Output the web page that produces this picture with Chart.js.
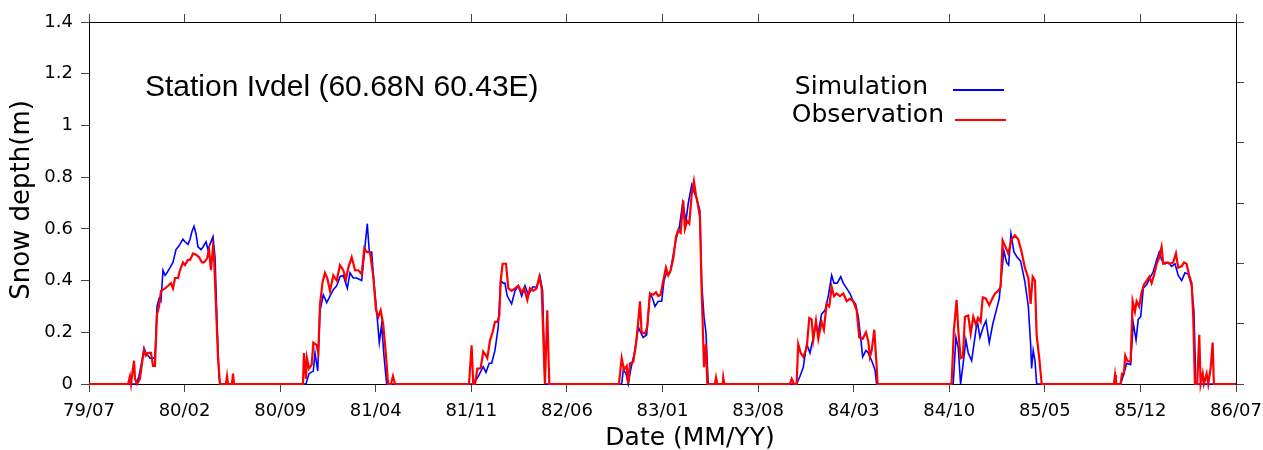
<!DOCTYPE html>
<html>
<head>
<meta charset="utf-8">
<script src="https://cdn.jsdelivr.net/npm/chart.js@4.4.1/dist/chart.umd.min.js"></script>
<style>
  body { margin: 0; background: #fff; }
  #wrap { width: 1263px; height: 450px; }
</style>
</head>
<body>
<div id="wrap"><canvas id="snowChart" width="1263" height="450"></canvas></div>
<script>
// months counted from 79/07 (0) to 86/07 (84), one line per winter
const simMonths = [0,
    3.44,3.66,3.88,4.03,4.17,4.47,4.83,4.98,5.13,5.27,5.42,5.57,5.71,5.93,6.15,6.37,6.52,6.66,6.88,7.03,7.25,7.40,7.54,7.69,7.84,7.98,8.20,8.35,8.57,8.71,8.86,9.08,9.23,9.37,9.52,9.59,
    15.89,16.11,16.43,16.55,16.75,16.92,17.16,17.41,17.65,17.89,18.14,18.38,18.62,18.92,19.11,19.35,19.60,19.97,20.21,20.38,20.53,20.70,20.87,21.07,21.26,21.43,21.60,21.80,
    28.14,28.51,28.87,29.07,29.31,29.49,29.73,29.97,30.15,30.34,30.46,30.63,30.95,31.20,31.44,31.69,31.93,32.17,32.49,32.78,33.03,33.22,33.39,
    39.01,39.13,39.33,39.49,39.67,39.98,40.23,40.40,40.59,40.84,41.08,41.28,41.45,41.69,41.94,42.11,42.30,42.55,42.79,42.99,43.23,43.48,43.72,43.89,44.14,44.30,44.50,44.74,44.87,45.04,45.18,45.35,
    51.82,52.07,52.31,52.56,52.80,53.00,53.24,53.41,53.65,53.90,54.14,54.39,54.56,54.80,55.05,55.24,55.49,55.73,55.97,56.14,56.34,56.51,56.66,56.90,57.07,57.32,57.56,57.68,
    63.29,63.49,63.66,63.83,64.02,64.22,64.39,64.64,64.88,65.05,65.25,65.49,65.69,65.93,66.18,66.42,66.66,66.84,67.00,67.20,67.35,67.52,67.74,67.98,68.23,68.54,68.79,68.96,69.03,69.15,69.28,69.40,
    75.55,75.79,75.99,76.28,76.48,76.68,76.84,77.02,77.21,77.46,77.70,77.94,78.19,78.38,78.55,78.79,79.04,79.28,79.53,79.77,80.02,80.26,80.50,80.75,80.92,81.06,84];
const simDepth = [0,
    0,0.03,0.09,0.14,0.12,0.10,0.10,0.30,0.33,0.32,0.44,0.42,0.43,0.45,0.47,0.52,0.53,0.54,0.56,0.55,0.54,0.56,0.59,0.61,0.58,0.53,0.52,0.53,0.55,0.52,0.54,0.57,0.49,0.25,0.03,0,
    0,0.04,0.05,0.12,0.05,0.285,0.345,0.315,0.34,0.365,0.38,0.415,0.42,0.37,0.43,0.41,0.41,0.40,0.53,0.62,0.51,0.51,0.39,0.28,0.16,0.23,0.11,0,
    0,0.03,0.067,0.045,0.08,0.08,0.13,0.22,0.40,0.39,0.39,0.34,0.31,0.36,0.38,0.34,0.38,0.345,0.375,0.375,0.415,0.36,0,
    0,0.055,0.04,0,0.055,0.13,0.22,0.20,0.18,0.19,0.35,0.33,0.30,0.32,0.32,0.40,0.43,0.43,0.50,0.56,0.605,0.70,0.63,0.70,0.77,0.745,0.72,0.67,0.39,0.26,0.20,0,
    0,0.03,0.065,0.155,0.12,0.17,0.23,0.20,0.27,0.285,0.34,0.42,0.39,0.39,0.415,0.39,0.37,0.35,0.32,0.31,0.26,0.18,0.105,0.13,0.12,0.09,0.055,0,
    0,0.18,0.14,0,0.08,0.17,0.12,0.09,0.18,0.245,0.18,0.22,0.245,0.16,0.23,0.28,0.33,0.43,0.515,0.47,0.46,0.58,0.51,0.49,0.475,0.395,0.30,0.155,0.06,0.13,0.09,0,
    0,0.04,0.08,0.075,0.235,0.17,0.25,0.26,0.37,0.385,0.41,0.435,0.48,0.51,0.48,0.465,0.47,0.455,0.465,0.42,0.40,0.43,0.425,0.38,0.28,0,0];

const obsMonths = [0,
    2.86,3.00,3.08,3.22,3.30,3.37,3.52,3.73,3.88,4.03,4.17,4.32,4.54,4.69,4.83,4.98,5.13,5.27,5.57,5.79,6.00,6.15,6.30,6.52,6.66,6.88,7.03,7.25,7.40,7.62,7.84,8.06,8.27,8.42,8.64,8.79,8.93,9.08,9.15,9.30,9.45,9.59,10.03,10.11,10.18,10.47,10.55,10.62,
    15.67,15.74,15.89,15.96,16.11,16.31,16.43,16.67,16.79,16.92,17.11,17.28,17.45,17.65,17.89,18.14,18.38,18.62,18.82,18.99,19.24,19.48,19.72,19.97,20.16,20.34,20.58,20.82,21.02,21.19,21.36,21.55,21.75,21.90,22.12,22.26,22.41,
    27.83,28.02,28.14,28.27,28.44,28.68,28.87,29.07,29.17,29.37,29.56,29.73,29.90,30.05,30.15,30.29,30.54,30.71,30.95,31.20,31.44,31.69,31.86,32.10,32.29,32.54,32.78,32.98,33.15,33.39,33.56,33.71,
    38.81,39.01,39.18,39.38,39.49,39.62,39.86,40.06,40.23,40.35,40.47,40.72,40.88,41.08,41.32,41.52,41.69,41.86,42.06,42.25,42.42,42.60,42.79,42.99,43.15,43.33,43.52,43.64,43.81,43.96,44.14,44.30,44.45,44.62,44.74,44.87,45.04,45.18,45.28,45.84,45.92,46.01,46.41,46.45,46.52,
    51.33,51.46,51.63,51.82,51.94,52.12,52.31,52.56,52.75,52.92,53.04,53.24,53.41,53.65,53.82,54.02,54.21,54.39,54.56,54.75,54.99,55.24,55.49,55.73,55.97,56.22,56.41,56.66,56.90,57.07,57.19,57.32,57.51,57.68,57.75,
    63.17,63.34,63.54,63.66,63.83,64.00,64.15,64.39,64.57,64.76,64.95,65.12,65.30,65.45,65.69,65.93,66.10,66.35,66.59,66.76,66.91,67.08,67.32,67.57,67.81,68.05,68.30,68.54,68.79,68.96,69.11,69.28,69.40,69.59,69.77,
    75.06,75.14,75.21,75.55,75.65,75.79,75.89,76.04,76.28,76.43,76.60,76.72,76.91,77.09,77.26,77.46,77.65,77.82,77.99,78.19,78.38,78.55,78.67,78.92,79.16,79.40,79.60,79.77,80.02,80.19,80.38,80.57,80.75,80.87,80.99,81.16,81.31,81.41,81.56,81.65,81.85,81.97,82.14,82.29,82.38,84];
const obsDepth = [0,
    0,0.03,0,0.06,0.09,0.02,0,0.02,0.08,0.13,0.11,0.12,0.12,0.07,0.07,0.27,0.30,0.36,0.37,0.38,0.39,0.37,0.41,0.41,0.44,0.47,0.46,0.48,0.48,0.505,0.50,0.49,0.47,0.47,0.485,0.52,0.44,0.53,0.50,0.30,0.10,0,0,0.03,0,0,0.04,0,
    0,0.12,0.02,0.10,0.06,0.075,0.16,0.15,0.12,0.31,0.395,0.43,0.41,0.36,0.42,0.40,0.46,0.44,0.405,0.45,0.49,0.44,0.44,0.425,0.525,0.51,0.51,0.415,0.285,0.26,0.285,0.23,0.11,0,0,0.03,0,
    0,0.15,0,0,0.06,0.06,0.125,0.11,0.10,0.17,0.20,0.24,0.24,0.265,0.40,0.465,0.465,0.37,0.36,0.37,0.38,0.355,0.37,0.325,0.37,0.36,0.37,0.415,0.37,0,0.285,0,
    0,0.10,0.055,0.07,0,0.08,0.085,0.155,0.245,0.32,0.20,0.195,0.22,0.35,0.345,0.355,0.34,0.345,0.40,0.45,0.42,0.44,0.485,0.57,0.595,0.585,0.71,0.60,0.63,0.62,0.735,0.785,0.73,0.685,0.645,0.36,0.065,0.155,0,0,0.025,0,0,0.025,0,
    0,0.02,0,0,0.155,0.12,0.105,0.14,0.255,0.25,0.17,0.245,0.175,0.24,0.21,0.31,0.30,0.375,0.34,0.35,0.34,0.35,0.32,0.33,0.32,0.285,0.18,0.175,0.20,0.165,0.105,0.13,0.21,0.07,0,
    0,0.21,0.325,0.21,0.10,0.105,0.26,0.265,0.195,0.26,0.23,0.255,0.24,0.335,0.33,0.305,0.325,0.35,0.36,0.375,0.555,0.535,0.505,0.56,0.575,0.56,0.51,0.45,0.41,0.31,0.415,0.40,0.19,0.10,0,
    0,0.035,0,0,0.04,0.04,0.11,0.09,0.085,0.32,0.28,0.32,0.30,0.355,0.385,0.40,0.415,0.39,0.42,0.465,0.49,0.53,0.465,0.47,0.465,0.47,0.505,0.45,0.455,0.47,0.465,0.42,0.39,0.255,0,0,0.19,0,0.04,0,0.04,0,0.06,0.16,0,0];

const depthTicks = [0, 0.2, 0.4, 0.6, 0.8, 1, 1.2, 1.4];

const stationTitle = 'Station Ivdel (60.68N 60.43E)';
const seriesNames = ['Simulation', 'Observation'];

function toPoints(xs, ys) {
    return xs.map((x, i) => ({ x: x, y: ys[i] }));
}

// MM/YY label from month index (0 = July 1979)
function monthLabel(m) {
    const k = Math.round(m) + 6;
    const mm = (k % 12) + 1;
    const yy = 79 + Math.floor(k / 12);
    return yy + '/' + String(mm).padStart(2, '0');
}

const font = 'DejaVu Sans';

// title, key and axis names placed like the original figure
const textPlugin = {
    id: 'figureText',
    afterDraw(chart) {
        const ctx = chart.ctx;
        ctx.save();
        ctx.fillStyle = '#000';
        ctx.textBaseline = 'middle';

        ctx.font = '30px "Liberation Sans"';
        ctx.textAlign = 'left';
        ctx.fillText(stationTitle, 145, 88);

        ctx.font = '25px "' + font + '"';
        ctx.textAlign = 'right';
        ctx.fillText(seriesNames[0], 928, 87);
        ctx.fillText(seriesNames[1], 944, 115);

        ctx.lineWidth = 2;
        ctx.strokeStyle = '#0000ff';
        ctx.beginPath(); ctx.moveTo(953, 90); ctx.lineTo(1004, 90); ctx.stroke();
        ctx.strokeStyle = '#ff0000';
        ctx.beginPath(); ctx.moveTo(955, 120); ctx.lineTo(1006, 120); ctx.stroke();

        ctx.textAlign = 'center';
        ctx.fillText('Date (MM/YY)', 690, 438);

        ctx.font = '26px "' + font + '"';
        ctx.translate(22, 200);
        ctx.rotate(-Math.PI / 2);
        ctx.fillText('Snow depth(m)', 0, 0);
        ctx.restore();
    }
};

const gridStyle = {
    drawOnChartArea: false,
    drawTicks: true,
    tickLength: 8,
    tickColor: '#444'
};
const borderStyle = { display: true, color: '#000', width: 1 };

new Chart(document.getElementById('snowChart'), {
    type: 'line',
    data: {
        datasets: [
            {
                label: seriesNames[0],
                data: toPoints(simMonths, simDepth),
                borderColor: '#0000ff',
                borderWidth: 1.6,
                pointRadius: 0,
                tension: 0,
                clip: false,
                order: 1
            },
            {
                label: seriesNames[1],
                data: toPoints(obsMonths, obsDepth),
                borderColor: '#ff0000',
                borderWidth: 2.2,
                pointRadius: 0,
                tension: 0,
                clip: false,
                order: 0
            }
        ]
    },
    options: {
        responsive: false,
        animation: false,
        events: [],
        layout: { padding: 0 },
        plugins: {
            legend: { display: false },
            tooltip: { enabled: false }
        },
        scales: {
            x: {
                type: 'linear',
                position: 'bottom',
                min: 0,
                max: 84,
                afterFit: s => { s.height = 66; s.paddingLeft = 0; s.paddingRight = 0; },
                ticks: {
                    stepSize: 7,
                    padding: 9,
                    color: '#000',
                    font: { family: font, size: 18 },
                    maxRotation: 0,
                    callback: v => monthLabel(v)
                },
                grid: gridStyle,
                border: borderStyle
            },
            xTop: {
                type: 'linear',
                position: 'top',
                min: 0,
                max: 84,
                afterFit: s => { s.height = 22; s.paddingLeft = 0; s.paddingRight = 0; },
                ticks: { stepSize: 7, display: false },
                grid: gridStyle,
                border: borderStyle
            },
            y: {
                type: 'linear',
                position: 'left',
                min: 0,
                max: 1.4,
                afterFit: s => { s.width = 89; },
                afterBuildTicks: s => { s.ticks = depthTicks.map(v => ({ value: v })); },
                ticks: {
                    padding: 8,
                    color: '#000',
                    font: { family: font, size: 18 },
                    callback: v => String(+v.toFixed(1))
                },
                grid: gridStyle,
                border: borderStyle
            },
            yRight: {
                type: 'linear',
                position: 'right',
                min: 0,
                max: 6,
                afterFit: s => { s.width = 27; },
                ticks: { stepSize: 1, display: false },
                grid: gridStyle,
                border: borderStyle
            }
        }
    },
    plugins: [textPlugin]
});
</script>
</body>
</html>
